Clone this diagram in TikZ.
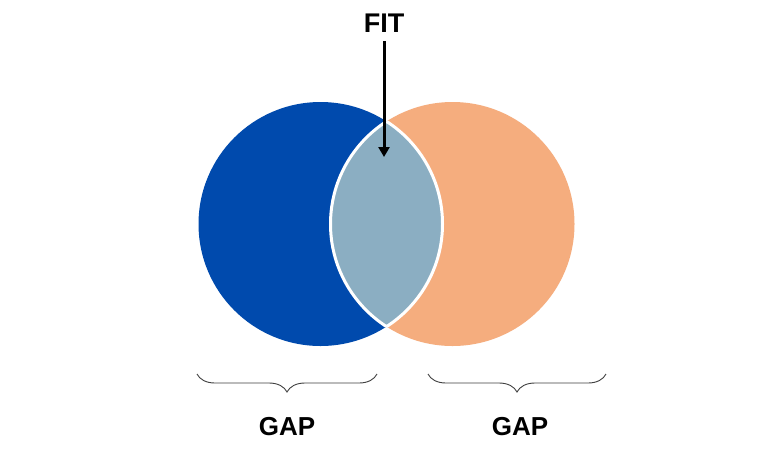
\documentclass[tikz,border=0pt]{standalone}
\usepackage{fontspec}
\setmainfont{Liberation Sans}
\usetikzlibrary{arrows.meta,decorations.pathreplacing}
\definecolor{vblue}{HTML}{004AAD}
\definecolor{vorange}{HTML}{F5AD7E}
\definecolor{vlens}{HTML}{8BAEC2}
\definecolor{bracegray}{HTML}{404040}
\tikzset{
  label text/.style={font=\bfseries\fontsize{26}{30}\selectfont, text=black, inner sep=0pt},
  bracepath/.style={draw=bracegray, line width=0.9pt, decorate, decoration={brace, amplitude=18pt}},
}
\begin{document}
\begin{tikzpicture}[x=1pt,y=-1pt]
\useasboundingbox (0,0) rectangle (760,448);
\fill[white] (0,0) rectangle (760,448);
\def\rr{122}
\coordinate (LC) at (320.5,224);
\coordinate (RC) at (452.5,224);
\fill[vblue] (LC) circle (\rr);
\fill[vorange] (RC) circle (\rr);
\begin{scope}
  \clip (LC) circle (\rr);
  \fill[vlens] (RC) circle (\rr);
  \draw[white, line width=3pt] (RC) circle (\rr);
\end{scope}
\begin{scope}
  \clip (RC) circle (\rr);
  \draw[white, line width=3pt] (LC) circle (\rr);
\end{scope}
\node[label text, font=\bfseries\fontsize{27}{32}\selectfont] (fit) at (384,23) {FIT};
\coordinate (tip) at (384,157);
\draw[line width=3pt, shorten <=9pt, -{Triangle[length=10pt,width=11pt]}] (fit.south) -- (tip);
\coordinate (b1s) at (377,374);
\coordinate (b1e) at (197,374);
\coordinate (b2s) at (606,374);
\coordinate (b2e) at (428,374);
\draw[bracepath] (b1s) -- (b1e);
\draw[bracepath] (b2s) -- (b2e);
\node[label text] (gap1) at (287,427) {GAP};
\node[label text] (gap2) at (520,427) {GAP};
\end{tikzpicture}
\end{document}
